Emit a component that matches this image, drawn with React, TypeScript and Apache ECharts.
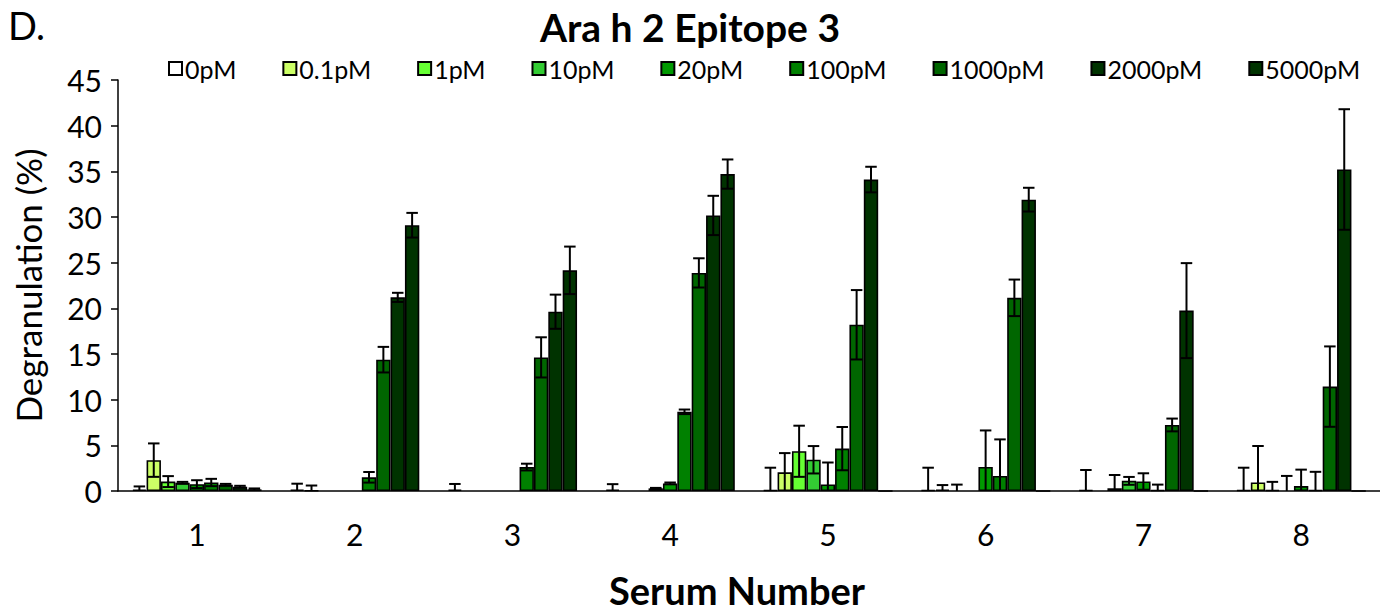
import React, { useEffect, useRef } from "react";
import * as echarts from "echarts";

const categories = ["1", "2", "3", "4", "5", "6", "7", "8"];
const seriesNames = ["0pM", "0.1pM", "1pM", "10pM", "20pM", "100pM", "1000pM", "2000pM", "5000pM"];
const seriesColors = ["#FFFFFF", "#CCFF66", "#66FF33", "#33CC33", "#009900", "#008000", "#006600", "#003300", "#003300"];

// mean degranulation (%) per serum, one array per concentration
const val0pM = [0.15, 0.15, 0.17, 0.17, 0.1, 0.1, 0.1, 0.1];
const val01pM = [3.38, 0.05, -0.1, -0.05, 2.05, 0.15, -0.1, 0.93];
const val1pM = [1.03, -0.1, -0.1, -0.05, 4.35, -0.05, 0.3, 0.1];
const val10pM = [0.9, -0.1, -0.1, 0.29, 3.42, -0.15, 1.11, -0.1];
const val20pM = [0.75, -0.1, -0.1, 0.83, 0.72, 2.63, 1.04, 0.54];
const val100pM = [0.93, 1.5, 2.62, 8.67, 4.64, 1.65, 0.1, 0.1];
const val1000pM = [0.68, 14.38, 14.63, 23.88, 18.2, 21.15, 7.23, 11.43];
const val2000pM = [0.47, 21.2, 19.63, 30.17, 34.1, 31.9, 19.75, 35.2];
const val5000pM = [0.18, 29.1, 24.16, 34.7, 0, 0, 0, 0];

// error (+/-) per serum, one array per concentration
const err0pM = [0.35, 0.65, 0.6, 0.58, 2.45, 2.45, 2.2, 2.45];
const err01pM = [1.83, 0.55, 0, 0, 2.1, 0.5, 0, 4.0];
const err1pM = [0.6, 0, 0, 0, 2.8, 0.75, 1.45, 0.9];
const err10pM = [0.1, 0, 0, 0.05, 1.5, 0, 0.43, 1.75];
const err20pM = [0.43, 0, 0, 0.1, 2.4, 4.0, 0.9, 1.8];
const err100pM = [0.4, 0.58, 0.37, 0.25, 2.37, 4.0, 0.6, 2.0];
const err1000pM = [0.1, 1.4, 2.2, 1.6, 3.8, 2.0, 0.7, 4.4];
const err2000pM = [0.1, 0.5, 1.87, 2.15, 1.4, 1.3, 5.2, 6.6];
const err5000pM = [0.1, 1.35, 2.6, 1.6, 0, 0, 0, 0];

const yMin = 0;
const yMax = 45;
const yInterval = 5;

const allValues = [val0pM, val01pM, val1pM, val10pM, val20pM, val100pM, val1000pM, val2000pM, val5000pM];
const allErrors = [err0pM, err01pM, err1pM, err10pM, err20pM, err100pM, err1000pM, err2000pM, err5000pM];

const FONT = "Lato";
const CAT_GAP = 0.18;

export default function App() {
  const ref = useRef<HTMLDivElement>(null);
  useEffect(() => {
    if (!ref.current) return;
    const chart = echarts.init(ref.current, null, { renderer: "svg" });

    const barSeries = seriesNames.map((name, i) => ({
      name,
      type: "bar",
      data: allValues[i],
      barGap: "0%",
      barCategoryGap: CAT_GAP * 100 + "%",
      itemStyle: { color: seriesColors[i], borderColor: "#000", borderWidth: 1.6 },
      emphasis: { disabled: true },
    }));

    const errData: number[][] = [];
    allValues.forEach((vals, si) => {
      vals.forEach((v, ci) => {
        const e = allErrors[si][ci];
        if (e > 0) errData.push([ci, v, e, si]);
      });
    });

    const errSeries = {
      type: "custom",
      name: "err",
      data: errData,
      encode: { x: 0, y: 1 },
      clip: true,
      z: 10,
      renderItem: (params: any, api: any) => {
        const ci = api.value(0);
        const v = api.value(1);
        const e = api.value(2);
        const si = api.value(3);
        const catW = api.size([1, 0])[0];
        const barW = (catW * (1 - CAT_GAP)) / seriesNames.length;
        const cx = api.coord([ci, 0])[0];
        const x = cx + (si - (seriesNames.length - 1) / 2) * barW;
        const yTop = api.coord([ci, v + e])[1];
        const yBot = api.coord([ci, v - e])[1];
        const cap = barW * 0.4;
        const style = { stroke: "#000", lineWidth: 2 };
        return {
          type: "group",
          children: [
            { type: "line", shape: { x1: x, y1: yTop, x2: x, y2: yBot }, style },
            { type: "line", shape: { x1: x - cap, y1: yTop, x2: x + cap, y2: yTop }, style },
            { type: "line", shape: { x1: x - cap, y1: yBot, x2: x + cap, y2: yBot }, style },
          ],
        };
      },
    };

    chart.setOption({
      animation: false,
      backgroundColor: "#fff",
      textStyle: { fontFamily: FONT, color: "#000" },
      title: {
        text: "Ara h 2 Epitope 3",
        left: "center",
        top: 4,
        padding: 0,
        textStyle: { fontFamily: FONT, fontSize: 39, fontWeight: "bold", color: "#000", lineHeight: 46 },
      },
      graphic: [
        {
          type: "text",
          left: 8,
          top: 6,
          style: { text: "D.", fontFamily: FONT, fontSize: 38, fill: "#000" },
        },
      ],
      legend: {
        data: seriesNames,
        left: 168,
        top: 56,
        width: 1210,
        padding: 0,
        itemWidth: 13,
        itemHeight: 13,
        itemGap: 46,
        icon: "rect",
        textStyle: { fontFamily: FONT, fontSize: 25, color: "#000", padding: [0, 0, 0, -2] },
      },
      grid: { left: 118, right: 0, top: 80, bottom: 116, containLabel: false },
      xAxis: {
        type: "category",
        data: categories,
        axisLine: { lineStyle: { color: "#000", width: 1.5 } },
        axisTick: { show: false },
        axisLabel: { fontFamily: FONT, fontSize: 30, color: "#000", margin: 28 },
        name: "Serum Number",
        nameLocation: "middle",
        nameGap: 80,
        nameTextStyle: {
          fontFamily: FONT,
          fontSize: 38,
          fontWeight: "bold",
          color: "#000",
          padding: [0, 24, 0, 0],
        },
      },
      yAxis: {
        type: "value",
        min: yMin,
        max: yMax,
        interval: yInterval,
        splitLine: { show: false },
        axisLine: { show: true, lineStyle: { color: "#000", width: 1.5 } },
        axisTick: { show: true, length: 7, lineStyle: { color: "#000", width: 1.5 } },
        axisLabel: { fontFamily: FONT, fontSize: 30, color: "#000", margin: 16 },
        name: "Degranulation (%)",
        nameLocation: "middle",
        nameGap: 73,
        nameTextStyle: { fontFamily: FONT, fontSize: 35, color: "#000" },
      },
      series: [...barSeries, errSeries],
    });
    return () => chart.dispose();
  }, []);
  return (
    <div
      ref={ref}
      style={{ position: "absolute", left: 0, top: 0, width: 1380, height: 614 }}
    />
  );
}
